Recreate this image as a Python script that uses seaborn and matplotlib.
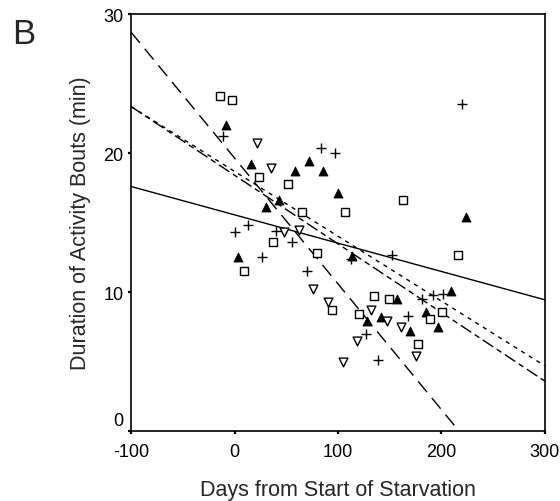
import matplotlib
matplotlib.use("Agg")
import matplotlib.pyplot as plt
import matplotlib.transforms as mtransforms
import pandas as pd
import seaborn as sns

# Individual animals: day relative to start of starvation vs. mean bout duration (min)
filled_tri_day = [-8, 16, 58, 72, 86, 100, 43, 30, 3, 114, 224, 157, 128, 142, 170, 185, 197, 209]
filled_tri_dur = [22.0, 19.2, 18.7, 19.4, 18.7, 17.1, 16.6, 16.1, 12.5, 12.6, 15.4, 9.5, 7.9, 8.2, 7.2, 8.6, 7.5, 10.1]

square_day = [-14, -2, 24, 52, 65, 107, 37, 9, 80, 94, 163, 216, 135, 149, 120, 177, 189, 201]
square_dur = [24.1, 23.8, 18.3, 17.8, 15.8, 15.8, 13.6, 11.5, 12.8, 8.7, 16.6, 12.7, 9.7, 9.5, 8.4, 6.3, 8.1, 8.6]

down_tri_day = [22, 35, 48, 62, 76, 90, 132, 147, 161, 118, 175, 105]
down_tri_dur = [20.7, 18.9, 14.3, 14.5, 10.2, 9.3, 8.7, 7.9, 7.5, 6.5, 5.4, 5.0]

plus_day = [-11, 84, 97, 0, 13, 40, 56, 27, 70, 113, 152, 220, 168, 127, 139, 181, 192, 202]
plus_dur = [21.2, 20.4, 20.0, 14.3, 14.8, 14.4, 13.6, 12.5, 11.5, 12.4, 12.7, 23.5, 8.3, 7.0, 5.1, 9.5, 9.8, 9.9]

# Regression lines: fitted duration at the two ends of the day axis
fit_days = [-100, 300]
fit_solid = [17.6, 9.45]
fit_short_dash = [23.35, 4.7]
fit_mid_dash = [23.35, 3.6]
fit_long_dash = [28.7, -7.5]

x_ticks = [-100, 0, 100, 200, 300]
y_ticks = [0, 10, 20, 30]

sns.set_theme(style="ticks")
plt.rcParams["font.family"] = ["Liberation Sans", "DejaVu Sans"]
plt.rcParams["axes.unicode_minus"] = False

fig = plt.figure(figsize=(5.6, 5.02), dpi=100)
ax = fig.add_axes([0.234, 0.139, 0.739, 0.831])

lw = 1.0
sns.lineplot(x=fit_days, y=fit_solid, ax=ax, color="black", linewidth=lw)
sns.lineplot(x=fit_days, y=fit_short_dash, ax=ax, color="black", linewidth=lw).lines[-1].set_dashes([3, 3.5])
sns.lineplot(x=fit_days, y=fit_mid_dash, ax=ax, color="black", linewidth=lw).lines[-1].set_dashes([9, 3, 4, 3])
sns.lineplot(x=fit_days, y=fit_long_dash, ax=ax, color="black", linewidth=lw).lines[-1].set_dashes([10, 5.5])

sns.scatterplot(x=filled_tri_day, y=filled_tri_dur, ax=ax, marker="^", s=42,
                color="black", edgecolor="black", linewidth=0.6, zorder=3)
sns.scatterplot(x=square_day, y=square_dur, ax=ax, marker="s", s=34,
                facecolor="white", edgecolor="black", linewidth=1.0, zorder=3)
sns.scatterplot(x=down_tri_day, y=down_tri_dur, ax=ax, marker="v", s=40,
                facecolor="white", edgecolor="black", linewidth=1.0, zorder=3)
sns.scatterplot(x=plus_day, y=plus_dur, ax=ax, marker="+", s=60,
                color="black", linewidth=1.0, zorder=3)

ax.set_xlim(-100, 300)
ax.set_ylim(0, 30)
ax.set_xticks(x_ticks)
ax.set_yticks(y_ticks)
ax.tick_params(axis="both", direction="out", length=2.5, width=1.6, labelsize=13,
               colors="black")
ax.tick_params(axis="x", pad=6)
ax.tick_params(axis="y", pad=3)
for side in ["left", "right", "top", "bottom"]:
    ax.spines[side].set_visible(True)
    ax.spines[side].set_color("black")
    ax.spines[side].set_linewidth(1.2)

# lift the "0" on the y axis clear of the x tick labels
zero_lbl = ax.yaxis.get_major_ticks()[0].label1
zero_lbl.set_transform(zero_lbl.get_transform()
                       + mtransforms.ScaledTranslation(0, 9 / 72, fig.dpi_scale_trans))

ax.set_xlabel("Days from Start of Starvation", fontsize=15.5, labelpad=14)
ax.set_ylabel("Duration of Activity Bouts (min)", fontsize=15.5, labelpad=9)

fig.text(0.021, 0.913, "B", fontsize=25, ha="left", va="baseline")

fig.savefig("out.png", dpi=100)
